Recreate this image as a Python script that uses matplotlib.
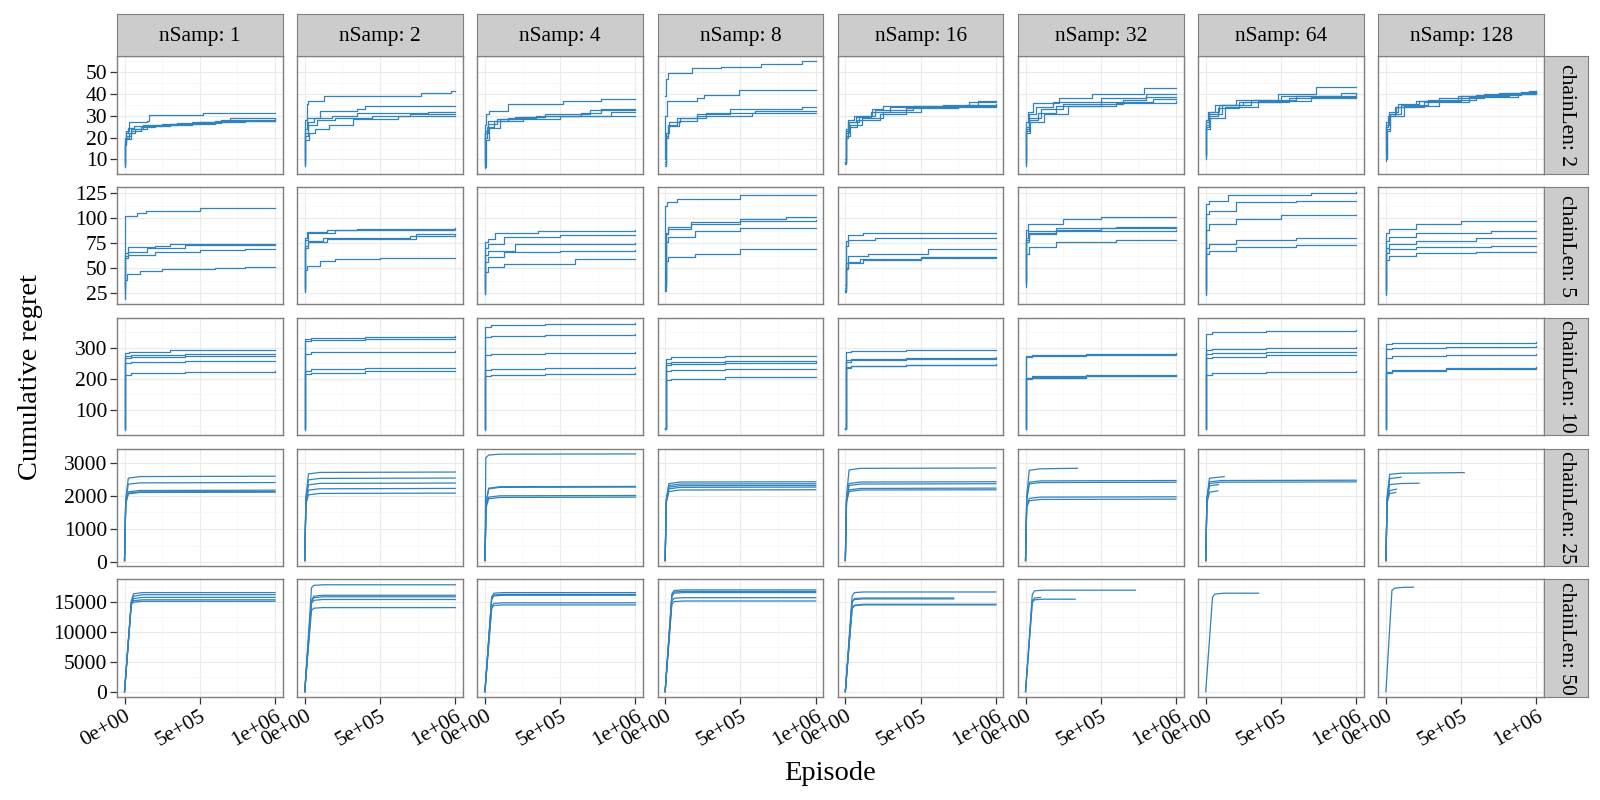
import matplotlib
matplotlib.use("Agg")
import matplotlib.pyplot as plt
from matplotlib.ticker import FixedLocator

plt.rcParams['font.family'] = ['Liberation Serif', 'DejaVu Serif']

n_samp = [1, 2, 4, 8, 16, 32, 64, 128]
chain_len = [2, 5, 10, 25, 50]
x_ticks = [0, 500000, 1000000]
x_minor = [250000, 750000]
x_tick_labels = ["0e+00", "5e+05", "1e+06"]
y_ticks_by_row = [[10, 20, 30, 40, 50], [25, 50, 75, 100, 125], [100, 200, 300],
                  [0, 1000, 2000, 3000], [0, 5000, 10000, 15000]]
y_minor_by_row = [[5, 15, 25, 35, 45, 55], [12.5, 37.5, 62.5, 87.5, 112.5, 137.5],
                  [50, 150, 250, 350], [-500, 500, 1500, 2500, 3500],
                  [2500, 7500, 12500, 17500]]

# Each run: list of (episode in thousands, cumulative regret); one list of runs per nSamp
regret_chain2 = [
    [[(0, 6.5), (2, 20), (8, 23), (30, 27), (150, 27.5), (160, 30.3), (520, 31.5), (1000, 31.5)],
     [(0, 8), (3, 19), (10, 22), (25, 24.5), (60, 25.5), (250, 26.5), (500, 27.2), (700, 28.8), (1000, 29)],
     [(0, 7), (2, 17), (10, 20), (30, 22), (70, 24), (150, 25.5), (300, 26.5), (600, 27.5), (1000, 28)],
     [(0, 9), (3, 18), (12, 21), (40, 24), (120, 26), (350, 26.8), (640, 28.2), (1000, 28.5)],
     [(0, 7.5), (2, 16.5), (10, 19.5), (45, 23), (110, 25), (200, 26), (450, 27), (800, 27.5), (1000, 27.5)]],
    [[(0, 7), (3, 28), (12, 35.3), (25, 36.8), (130, 39), (770, 40.6), (970, 41.4), (1000, 41.4)],
     [(0, 9), (3, 24), (15, 29), (100, 32.2), (350, 33), (400, 34.5), (1000, 34.5)],
     [(0, 8), (4, 22), (20, 27), (60, 29), (180, 30), (350, 31.5), (820, 31.8), (1000, 31.8)],
     [(0, 10), (3, 21), (20, 26), (80, 28), (200, 29.2), (450, 30), (700, 31), (1000, 31)],
     [(0, 7.5), (5, 19), (30, 22), (70, 23.8), (160, 26), (320, 28.4), (620, 30), (1000, 30)]],
    [[(0, 6), (2, 26), (8, 31), (30, 32.2), (150, 35.3), (520, 36.8), (770, 37.6), (1000, 37.6)],
     [(0, 7), (3, 20), (15, 25), (60, 27.5), (150, 29), (340, 30), (640, 31.5), (770, 33), (1000, 33)],
     [(0, 8), (3, 22), (20, 26.5), (80, 28.5), (200, 29.5), (400, 31), (700, 32.5), (1000, 32.5)],
     [(0, 6.5), (4, 19), (25, 24.5), (100, 28.4), (500, 30), (840, 31.8), (1000, 31.8)],
     [(0, 9), (3, 23), (20, 27.6), (250, 29.5), (400, 30), (1000, 30)]],
    [[(0, 39), (5, 46.8), (20, 49.8), (180, 51.8), (370, 52.5), (640, 53.7), (910, 55), (1000, 55)],
     [(0, 10), (2, 30), (10, 36.8), (210, 38), (260, 39.6), (490, 41.9), (1000, 41.9)],
     [(0, 7), (3, 20), (20, 26), (80, 29), (210, 30.7), (430, 33), (910, 34), (1000, 34)],
     [(0, 8), (4, 22), (25, 27), (100, 29), (270, 31.5), (600, 32.2), (1000, 32.2)],
     [(0, 9), (3, 21), (20, 25.5), (90, 27.6), (210, 30), (580, 31.5), (1000, 31.5)]],
    [[(0, 8), (3, 24), (20, 28), (60, 30), (180, 33), (250, 34.5), (820, 36.2), (880, 37), (1000, 37)],
     [(0, 9), (4, 22), (25, 27), (90, 30), (200, 32.5), (450, 34.5), (800, 35), (880, 36.5), (1000, 36.5)],
     [(0, 8.5), (3, 23), (15, 27), (70, 29.5), (170, 32), (300, 34), (650, 35), (1000, 35.5)],
     [(0, 10), (5, 21), (30, 26), (110, 29), (250, 32), (500, 34), (1000, 34.8)],
     [(0, 9), (3, 20), (20, 25), (80, 28), (230, 31), (400, 33.5), (750, 34.5), (1000, 34.5)]],
    [[(0, 7), (3, 27), (15, 32), (50, 36), (220, 38), (440, 40.2), (790, 43), (1000, 43)],
     [(0, 9), (3, 25), (20, 31), (70, 34), (180, 36.5), (500, 38), (800, 39.9), (1000, 39.9)],
     [(0, 8), (4, 24), (25, 29), (100, 33), (250, 35.5), (650, 37.5), (800, 38.7), (1000, 38.7)],
     [(0, 10), (3, 23), (20, 28), (80, 31.5), (200, 34.5), (500, 36.5), (850, 37.6), (1000, 37.6)],
     [(0, 9), (5, 22), (30, 27), (120, 31), (280, 34.5), (600, 36), (1000, 36.8)]],
    [[(0, 10), (3, 28), (15, 32), (60, 35), (200, 37.5), (480, 40), (730, 43.4), (1000, 43.4)],
     [(0, 12), (4, 26), (20, 30), (80, 33.5), (220, 36.5), (500, 39), (900, 40.6), (1000, 40.6)],
     [(0, 11), (3, 25), (25, 31), (110, 35), (300, 37.5), (600, 39.3), (1000, 39.9)],
     [(0, 13), (5, 24), (30, 29), (130, 34), (350, 37), (700, 38.5), (1000, 39)],
     [(0, 12), (3, 27), (20, 32), (90, 35), (250, 36.5), (550, 38), (1000, 38.7)]],
    [[(0, 9.5), (3, 25), (15, 30), (60, 34), (200, 37), (500, 39), (750, 40.5), (950, 41.5), (1000, 41.5)],
     [(0, 11), (4, 24), (25, 31), (100, 35), (280, 37.5), (600, 39.5), (900, 41), (1000, 41.2)],
     [(0, 12), (3, 27), (20, 32), (80, 35.5), (220, 37), (480, 39), (820, 40.5), (1000, 41)],
     [(0, 10), (5, 23), (30, 30), (120, 34.5), (350, 38), (650, 40), (1000, 40.8)],
     [(0, 13), (3, 26), (20, 31), (70, 34), (250, 36.5), (550, 38.5), (880, 40), (1000, 40.5)]],
]

regret_chain5 = [
    [[(0, 20), (2, 102.6), (80, 105), (140, 107.6), (500, 110), (1000, 110)],
     [(0, 25), (3, 65), (20, 70.8), (200, 72), (300, 74), (1000, 74)],
     [(0, 33), (3, 62), (25, 66), (150, 70), (400, 73), (1000, 73)],
     [(0, 30), (3, 60), (20, 63), (200, 66), (500, 68), (800, 69), (1000, 69)],
     [(0, 19), (2, 38), (15, 44), (100, 47), (250, 49), (600, 50.5), (800, 51), (1000, 51)]],
    [[(0, 27), (3, 80), (15, 86), (150, 88), (350, 89), (1000, 90)],
     [(0, 30), (2, 78), (20, 85), (200, 88.5), (1000, 89)],
     [(0, 32), (4, 72), (20, 77.5), (120, 80), (700, 82.5), (1000, 83)],
     [(0, 28), (3, 70), (20, 76), (150, 79), (740, 84), (1000, 84)],
     [(0, 26), (3, 48), (15, 52.4), (100, 57), (200, 59), (500, 60), (1000, 60)]],
    [[(0, 24), (3, 76), (20, 79), (70, 85.5), (350, 87.5), (1000, 88)],
     [(0, 28), (3, 70), (20, 74), (130, 81), (500, 83.5), (1000, 83.5)],
     [(0, 30), (3, 63), (20, 67.5), (200, 74), (1000, 75)],
     [(0, 26), (3, 56), (20, 61), (130, 66), (500, 67.5), (1000, 68)],
     [(0, 24), (3, 46), (20, 51), (130, 54), (600, 59), (1000, 59)]],
    [[(0, 27), (2, 112), (15, 116), (80, 119), (500, 123.3), (1000, 123.5)],
     [(0, 35), (3, 85), (20, 91), (170, 96), (500, 99), (800, 101), (1000, 101)],
     [(0, 32), (3, 84), (20, 89), (170, 94), (500, 97), (1000, 98)],
     [(0, 30), (3, 76), (20, 81), (200, 87.5), (500, 90), (1000, 90)],
     [(0, 27), (3, 57), (20, 61), (200, 64), (500, 69), (1000, 69)]],
    [[(0, 26), (3, 77), (15, 83), (120, 85.5), (1000, 85.5)],
     [(0, 30), (3, 72), (15, 78), (200, 80), (1000, 80)],
     [(0, 33), (3, 55), (20, 62), (150, 64), (550, 69), (1000, 69)],
     [(0, 28), (3, 50), (20, 56), (100, 59), (500, 61), (1000, 61)],
     [(0, 27), (3, 49), (20, 55), (120, 58), (500, 60), (1000, 60.5)]],
    [[(0, 31), (3, 88), (15, 94), (250, 99), (500, 101.6), (1000, 101.6)],
     [(0, 35), (3, 80), (15, 87.5), (200, 90), (600, 91.5), (1000, 91.5)],
     [(0, 33), (3, 76), (20, 84), (200, 88), (500, 90), (1000, 90)],
     [(0, 38), (3, 78), (20, 85), (200, 87), (1000, 88.5)],
     [(0, 36), (3, 64), (20, 70.8), (200, 76), (600, 78), (1000, 78)]],
    [[(0, 23), (2, 114), (20, 117.6), (150, 122.7), (700, 125), (1000, 126)],
     [(0, 30), (2, 104), (20, 107.6), (200, 116), (600, 117.6), (1000, 117.6)],
     [(0, 28), (3, 88), (20, 94), (200, 99), (500, 103), (1000, 103)],
     [(0, 26), (3, 70), (20, 74), (200, 78), (600, 80), (1000, 80.5)],
     [(0, 24), (3, 64), (20, 67.5), (200, 71.5), (600, 73), (1000, 73.5)]],
    [[(0, 23), (3, 85), (20, 89), (200, 94), (500, 97.6), (1000, 97.6)],
     [(0, 28), (3, 77), (20, 81), (200, 85), (700, 87.5), (1000, 87.5)],
     [(0, 30), (3, 70), (20, 74), (200, 77.5), (600, 80), (1000, 80)],
     [(0, 26), (3, 65), (20, 69), (200, 71), (700, 72.5), (1000, 72.5)],
     [(0, 24), (3, 58), (20, 62.5), (200, 65), (600, 66.5), (1000, 66.5)]],
]

regret_chain10 = [
    [[(0, 40), (3, 284), (30, 288), (300, 292), (1000, 293.5)],
     [(0, 42), (3, 274), (40, 277), (400, 280), (1000, 280.6)],
     [(0, 38), (3, 268), (40, 271), (400, 272.5), (1000, 273)],
     [(0, 44), (3, 252), (40, 255), (400, 258), (1000, 259)],
     [(0, 36), (3, 214), (40, 218), (400, 222), (1000, 224.7)]],
    [[(0, 39), (3, 327), (40, 331), (400, 335), (1000, 336.5)],
     [(0, 41), (3, 322), (40, 326), (400, 328), (1000, 329)],
     [(0, 43), (3, 281), (40, 285), (400, 288), (1000, 289)],
     [(0, 37), (3, 227), (40, 231), (400, 234), (1000, 235.5)],
     [(0, 40), (3, 216), (40, 220), (400, 225), (1000, 227)]],
    [[(0, 38), (3, 366), (40, 372), (400, 377), (1000, 379.6)],
     [(0, 42), (3, 334), (40, 338), (400, 341), (1000, 343)],
     [(0, 40), (3, 276), (40, 280), (400, 284), (1000, 286)],
     [(0, 36), (3, 228), (40, 232), (400, 236), (1000, 237.6)],
     [(0, 39), (3, 208), (40, 212), (400, 217), (1000, 219)]],
    [[(0, 41), (3, 265), (40, 269), (400, 273), (1000, 275)],
     [(0, 39), (3, 251), (40, 255), (400, 257), (1000, 259)],
     [(0, 43), (3, 244), (40, 248), (400, 252), (1000, 253.8)],
     [(0, 38), (3, 225), (40, 228), (400, 231), (1000, 232)],
     [(0, 40), (3, 198), (40, 201), (400, 205), (1000, 207.5)]],
    [[(0, 40), (3, 286), (40, 290), (400, 293), (1000, 294.6)],
     [(0, 42), (3, 260), (40, 264), (400, 268), (1000, 270)],
     [(0, 38), (3, 256), (40, 260), (400, 263), (1000, 264.5)],
     [(0, 41), (3, 238), (40, 242), (400, 246), (1000, 248.4)],
     [(0, 39), (3, 236), (40, 240), (400, 244), (1000, 246)]],
    [[(0, 40), (3, 273), (40, 277), (400, 281), (1000, 283)],
     [(0, 42), (3, 270), (40, 274), (400, 278), (1000, 280.6)],
     [(0, 38), (3, 204), (40, 208), (400, 212), (1000, 214)],
     [(0, 41), (3, 202), (40, 206), (400, 210), (1000, 212)],
     [(0, 39), (3, 199), (40, 203), (400, 208), (1000, 210.8)]],
    [[(0, 40), (3, 346), (40, 350), (400, 354), (1000, 356)],
     [(0, 42), (3, 292), (40, 296), (400, 300), (1000, 302)],
     [(0, 38), (3, 279), (40, 283), (400, 286), (1000, 288)],
     [(0, 41), (3, 268), (40, 272), (400, 276), (1000, 278.5)],
     [(0, 39), (3, 214), (40, 218), (400, 223), (1000, 225.8)]],
    [[(0, 40), (3, 311), (40, 314), (400, 317), (1000, 318)],
     [(0, 42), (3, 295), (40, 299), (400, 303), (1000, 305)],
     [(0, 38), (3, 268), (40, 273), (400, 278), (1000, 280.6)],
     [(0, 41), (3, 223), (40, 228), (400, 235), (1000, 237.6)],
     [(0, 39), (3, 220), (40, 225), (400, 232), (1000, 235.5)]],
]

regret_chain25 = [
    [[(0, 50), (8, 1900), (25, 2530), (100, 2580), (1000, 2590)],
     [(0, 60), (8, 1850), (25, 2350), (100, 2390), (1000, 2400)],
     [(0, 40), (8, 1800), (25, 2120), (100, 2160), (1000, 2170)],
     [(0, 55), (8, 1780), (25, 2080), (100, 2120), (1000, 2130)],
     [(0, 45), (8, 1750), (25, 2060), (100, 2100), (1000, 2110)]],
    [[(0, 50), (8, 1950), (25, 2660), (100, 2705), (1000, 2717)],
     [(0, 60), (8, 1900), (25, 2480), (100, 2525), (1000, 2535)],
     [(0, 40), (8, 1850), (25, 2330), (100, 2375), (1000, 2384)],
     [(0, 55), (8, 1800), (25, 2170), (100, 2212), (1000, 2222)],
     [(0, 45), (8, 1750), (25, 2030), (100, 2072), (1000, 2081)]],
    [[(0, 50), (6, 3150), (25, 3230), (100, 3255), (1000, 3263)],
     [(0, 60), (8, 1800), (25, 2230), (100, 2275), (1000, 2283)],
     [(0, 40), (8, 1780), (25, 2210), (100, 2255), (1000, 2263)],
     [(0, 55), (8, 1700), (25, 1960), (100, 2000), (1000, 2010)],
     [(0, 45), (8, 1650), (25, 1910), (100, 1950), (1000, 1960)]],
    [[(0, 50), (8, 1900), (25, 2370), (100, 2415), (1000, 2424)],
     [(0, 60), (8, 1880), (25, 2310), (100, 2355), (1000, 2364)],
     [(0, 40), (8, 1860), (25, 2260), (100, 2305), (1000, 2313)],
     [(0, 55), (8, 1840), (25, 2210), (100, 2255), (1000, 2263)],
     [(0, 45), (8, 1800), (25, 2130), (100, 2175), (1000, 2182)]],
    [[(0, 50), (8, 2000), (25, 2780), (100, 2828), (1000, 2838)],
     [(0, 60), (8, 1900), (25, 2370), (100, 2415), (1000, 2424)],
     [(0, 40), (8, 1880), (25, 2310), (100, 2355), (1000, 2364)],
     [(0, 55), (8, 1840), (25, 2180), (100, 2222), (1000, 2232)],
     [(0, 45), (8, 1800), (25, 2130), (100, 2175), (1000, 2182)]],
    [[(0, 50), (8, 2000), (25, 2770), (100, 2815), (345, 2830)],
     [(0, 60), (8, 1900), (25, 2410), (100, 2450), (1000, 2460)],
     [(0, 40), (8, 1880), (25, 2360), (100, 2400), (1000, 2410)],
     [(0, 55), (8, 1700), (25, 1920), (100, 1960), (1000, 1970)],
     [(0, 45), (8, 1650), (25, 1850), (100, 1890), (1000, 1900)]],
    [[(0, 50), (8, 1950), (25, 2530), (123, 2580)],
     [(0, 60), (8, 1900), (25, 2420), (100, 2460), (1000, 2470)],
     [(0, 40), (8, 1880), (25, 2370), (100, 2410), (1000, 2420)],
     [(0, 55), (8, 1850), (25, 2300), (85, 2340)],
     [(0, 45), (8, 1780), (25, 2110), (80, 2150)]],
    [[(0, 50), (8, 1980), (25, 2650), (100, 2680), (520, 2700)],
     [(0, 60), (8, 1930), (25, 2520), (100, 2560)],
     [(0, 40), (8, 1880), (25, 2340), (100, 2370), (220, 2380)],
     [(0, 55), (8, 1830), (25, 2160), (70, 2200)],
     [(0, 45), (8, 1780), (25, 2070), (65, 2100)]],
]

regret_chain50 = [
    [[(0, 0), (45, 15100), (60, 16300), (120, 16500), (1000, 16500)],
     [(0, 0), (45, 14900), (60, 15900), (120, 16150), (1000, 16150)],
     [(0, 0), (45, 14700), (60, 15500), (120, 15700), (1000, 15700)],
     [(0, 0), (45, 14600), (60, 15150), (120, 15300), (1000, 15300)],
     [(0, 0), (45, 14500), (60, 14900), (120, 15050), (1000, 15050)]],
    [[(0, 0), (45, 17300), (60, 17700), (120, 17800), (1000, 17800)],
     [(0, 0), (45, 15200), (60, 15900), (120, 16050), (1000, 16050)],
     [(0, 0), (45, 15000), (60, 15650), (120, 15800), (1000, 15800)],
     [(0, 0), (45, 14700), (60, 15200), (120, 15350), (1000, 15350)],
     [(0, 0), (45, 13500), (60, 13900), (120, 14000), (1000, 14000)]],
    [[(0, 0), (45, 15800), (60, 16400), (120, 16500), (1000, 16500)],
     [(0, 0), (45, 15500), (60, 16100), (120, 16200), (1000, 16200)],
     [(0, 0), (45, 15400), (60, 15950), (120, 16050), (1000, 16050)],
     [(0, 0), (45, 14200), (60, 14700), (120, 14800), (1000, 14800)],
     [(0, 0), (45, 13900), (60, 14350), (120, 14450), (1000, 14450)]],
    [[(0, 0), (45, 16300), (60, 16850), (120, 16950), (1000, 16950)],
     [(0, 0), (45, 16100), (60, 16600), (120, 16700), (1000, 16700)],
     [(0, 0), (45, 15900), (60, 16400), (120, 16500), (1000, 16500)],
     [(0, 0), (45, 15100), (60, 15550), (120, 15650), (1000, 15650)],
     [(0, 0), (45, 14600), (60, 15000), (120, 15100), (1000, 15100)]],
    [[(0, 0), (45, 15900), (60, 16500), (120, 16600), (1000, 16600)],
     [(0, 0), (45, 15000), (60, 15500), (120, 15600), (720, 15600)],
     [(0, 0), (45, 14900), (60, 15350), (120, 15450), (720, 15450)],
     [(0, 0), (45, 13900), (60, 14400), (120, 14550), (1000, 14550)],
     [(0, 0), (45, 13800), (60, 14300), (120, 14450), (1000, 14450)]],
    [[(0, 0), (45, 16200), (60, 16800), (120, 16900), (730, 16900)],
     [(0, 0), (45, 14800), (60, 15300), (120, 15400), (330, 15400)],
     [(0, 0), (45, 15100), (60, 15600), (100, 15700)]],
    [[(0, 0), (45, 15700), (60, 16250), (120, 16400), (350, 16400)]],
    [[(0, 0), (40, 16900), (60, 17250), (120, 17380), (183, 17400)]],
]

rows_data = [regret_chain2, regret_chain5, regret_chain10, regret_chain25, regret_chain50]

LINE_COLOR = '#3182BD'
BORDER = '#7F7F7F'
STRIP_FILL = '#CCCCCC'
GRID_MAJOR = '#EBEBEB'
GRID_MINOR = '#F7F7F7'

W, H = 1600, 800
fig = plt.figure(figsize=(16, 8), dpi=100)

left0, right_end = 117, 1544
top0, bottom_end = 56, 697
ncol, nrow = 8, 5
gap_x, gap_y = 14.6, 13.3
pw = (right_end - left0 - gap_x * (ncol - 1)) / ncol
ph = (bottom_end - top0 - gap_y * (nrow - 1)) / nrow
strip_h = 42
strip_w = 44

def fig_rect(x, y, w, h):
    return [x / W, 1 - (y + h) / H, w / W, h / H]

tick_fs = 15.5
strip_fs = 15.5
title_fs = 20.5

for r in range(nrow):
    runs_row = rows_data[r]
    all_y = [p[1] for panel in runs_row for run in panel for p in run]
    ymin, ymax = min(all_y), max(all_y)
    pad = 0.05 * (ymax - ymin)
    y_top = top0 + r * (ph + gap_y)
    for c in range(ncol):
        x_left = left0 + c * (pw + gap_x)
        ax = fig.add_axes(fig_rect(x_left, y_top, pw, ph))
        ax.set_facecolor('white')
        for run in runs_row[c]:
            xs = [p[0] * 1000 for p in run]
            ys = [p[1] for p in run]
            ax.plot(xs, ys, color=LINE_COLOR, lw=0.9,
                    drawstyle='steps-post' if r < 3 else 'default')
        ax.set_xlim(-50000, 1050000)
        ax.set_ylim(ymin - pad, ymax + pad)
        ax.xaxis.set_major_locator(FixedLocator(x_ticks))
        ax.xaxis.set_minor_locator(FixedLocator(x_minor))
        ax.yaxis.set_major_locator(FixedLocator(y_ticks_by_row[r]))
        ax.yaxis.set_minor_locator(FixedLocator(y_minor_by_row[r]))
        ax.grid(which='major', color=GRID_MAJOR, lw=0.8)
        ax.grid(which='minor', color=GRID_MINOR, lw=0.6)
        ax.set_axisbelow(True)
        for s in ax.spines.values():
            s.set_color(BORDER)
            s.set_linewidth(1.0)
        ax.tick_params(which='minor', length=0)
        ax.tick_params(which='major', length=5, width=0.9, color='#333333',
                       labelsize=tick_fs, labelcolor='black', pad=2)
        if c == 0:
            ax.set_yticklabels([str(v) for v in y_ticks_by_row[r]])
        else:
            ax.tick_params(axis='y', which='both', left=False, labelleft=False)
        if r == nrow - 1:
            ax.set_xticklabels(x_tick_labels, rotation=30, ha='right',
                               rotation_mode='anchor')
        else:
            ax.tick_params(axis='x', which='both', bottom=False, labelbottom=False)

        if r == 0:
            sax = fig.add_axes(fig_rect(x_left, top0 - strip_h, pw, strip_h))
            sax.set_facecolor(STRIP_FILL)
            sax.set_xticks([]); sax.set_yticks([])
            for s in sax.spines.values():
                s.set_color(BORDER); s.set_linewidth(0.8)
            sax.text(0.5, 0.47, f"nSamp: {n_samp[c]}", ha='center', va='center',
                     fontsize=strip_fs, transform=sax.transAxes)
    rax = fig.add_axes(fig_rect(right_end, y_top, strip_w, ph))
    rax.set_facecolor(STRIP_FILL)
    rax.set_xticks([]); rax.set_yticks([])
    for s in rax.spines.values():
        s.set_color(BORDER); s.set_linewidth(0.8)
    rax.text(0.5, 0.5, f"chainLen: {chain_len[r]}", ha='center', va='center',
             rotation=-90, fontsize=strip_fs, transform=rax.transAxes, clip_on=True)

fig.text(31 / W, 1 - 377 / H, "Cumulative regret", rotation=90, ha='center',
         va='center', fontsize=title_fs)
fig.text(830 / W, 1 - 773 / H, "Episode", ha='center', va='center', fontsize=title_fs)

fig.savefig("out.png", dpi=100, facecolor='white')
